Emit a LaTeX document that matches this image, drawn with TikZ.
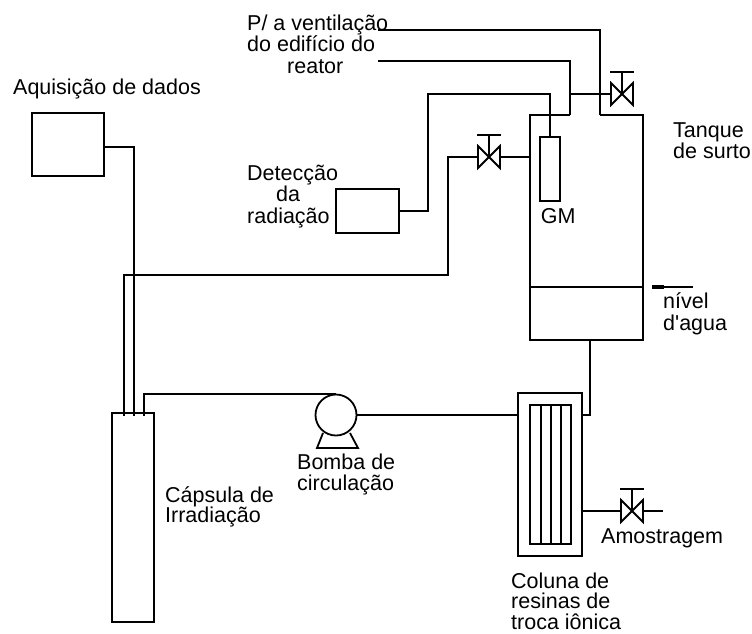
\documentclass[tikz,border=0pt]{standalone}
\usepackage{fontspec}
\setmainfont{Liberation Sans}
\newfontfamily\rawfont{Liberation Sans}
\newcommand{\firstln}{\rule{0pt}{16pt}}
\tikzset{
  pipe/.style={line width=1.8pt,line join=miter},
  vessel/.style={draw,line width=1.8pt,rectangle,inner sep=0pt,minimum width=#1},
  lbll/.style={font=\fontsize{21.5}{#1}\selectfont,inner sep=0pt,align=left,anchor=north west},
  valvesym/.pic={
    \draw[pipe] (-11,-11) -- (11,11) -- (11,-11) -- (-11,11) -- cycle;
    \draw[pipe] (0,0) -- (0,-22);
    \draw[pipe] (-12,-22) -- (12,-22);
    \coordinate (-w) at (-11,0);
    \coordinate (-e) at (11,0);
  }
}
\begin{document}
\begin{tikzpicture}[x=1pt,y=-1pt]
\useasboundingbox (0,0) rectangle (752,633);
\fill[white] (0,0) rectangle (752,633);
% vessels
\coordinate (tnw) at (530,115);
\coordinate (tse) at (643,340);
\coordinate (tA) at (570,115);
\coordinate (tB) at (600,115);
\coordinate (tne) at (643,115);
\coordinate (tsw) at (530,340);
\draw[pipe] (tA) -- (tnw) -- (tsw) -- (tse) -- (tne) -- (tB);
\coordinate (wl) at (530,287);
\coordinate (wr) at (643,287);
\draw[pipe] (wl) -- (wr);
\node[vessel=72pt,minimum height=63pt] (aq) at (68,144.5) {};
\node[vessel=63pt,minimum height=44pt] (det) at (367.5,211) {};
\node[vessel=20pt,minimum height=64pt] (gm) at (550,169) {};
\node[vessel=42pt,minimum height=209pt] (cap) at (133,517.5) {};
\node[vessel=64pt,minimum height=163pt] (col) at (550,474.5) {};
\node[vessel=41pt,minimum height=139pt] (res) at (550.5,474.5) {};
\foreach \n/\x in {1/541,2/551,3/561}{
  \draw[pipe] (\x,405) -- (\x,544);
}
% pump
\node[draw,circle,line width=1.8pt,minimum size=41pt,inner sep=0pt] (pump) at (336,415) {};
\draw[pipe] (323,433) -- (317,448) -- (358,448) -- (350,433);
% valves
\pic (v1) at (622,94) {valvesym};
\pic (v2) at (489,157) {valvesym};
\pic (v3) at (632,511) {valvesym};
% free ends and bends
\coordinate (ve1) at (378,30);
\coordinate (ve2) at (378,61);
\coordinate (cA) at (124,416);
\coordinate (cB) at (134,416);
\coordinate (cC) at (144,416);
\coordinate (samp) at (663,511);
\coordinate (tl) at (530,157);
\coordinate (tbot) at (590,340);
\coordinate (aqe) at (104,147);
\draw[pipe] (ve1) -| (tB);
\draw[pipe] (ve2) -| (tA);
\draw[pipe] (570,94) -- (v1-w);
\draw[pipe] (gm.north) -- (550,94) -- (428,94) -- (428,211) -- (det.east);
\draw[pipe] (tl) -- (v2-e);
\draw[pipe] (v2-w) -- (448,157) -- (448,275) -- (124,275) -- (cA);
\draw[pipe] (aqe) -- (134,147) -- (cB);
\draw[pipe] (cC) -- (144,394) -- (336,394);
\draw[pipe] (pump.east) -- (pump.east -| col.west);
\draw[pipe] (tbot) -- (590,415) -- (582,415);
\draw[pipe] (582,511) -- (v3-w);
\draw[pipe] (v3-e) -- (samp);
% level mark
\coordinate (lv1) at (652,287);
\coordinate (lv2) at (693,287);
\draw[pipe] (lv1) -- (lv2);
\draw[line width=3.6pt] (652,287) -- (664,287);
% labels: y is first baseline minus 16
\node[lbll=22] (t1) at (13,78) {\firstln Aquisição de dados};
\node[lbll=21.5] (t2) at (247,14) {\firstln P/ a ventilação\\do edifício do\\\hspace*{40pt}reator};
\node[lbll=21.5] (t3) at (247,164) {\firstln Detecção\\\hspace*{29pt}da\\radiação};
\node[lbll=20] (t4) at (673,121) {\firstln Tanque\\de surto};
\node[lbll=22] (t5) at (540.6,207) {\firstln GM};
\node[lbll=22] (t6) at (663,292) {\firstln nível\\{\rawfont d'agua}};
\node[lbll=21] (t7) at (297,453) {\firstln Bomba de\\circulação};
\node[lbll=20.5] (t8) at (165,486) {\firstln Cápsula de\\Irradiação};
\node[lbll=22] (t9) at (601,527) {\firstln Amostragem};
\node[lbll=20.5] (t10) at (511,572) {\firstln Coluna de\\resinas de\\troca iônica};
\end{tikzpicture}
\end{document}
